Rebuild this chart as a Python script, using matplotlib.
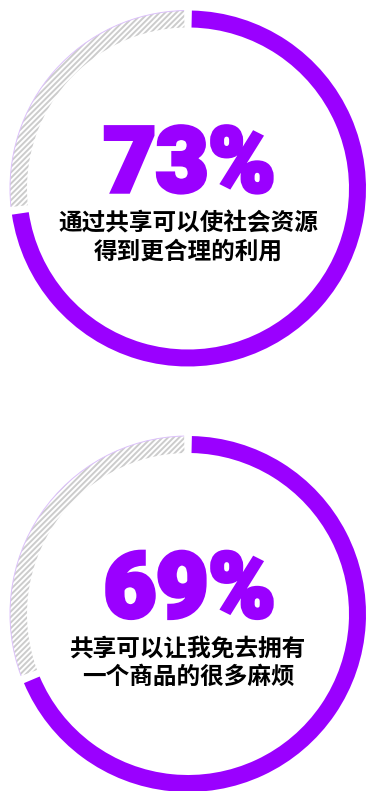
import matplotlib
matplotlib.use('Agg')
from matplotlib import pyplot as plt
from matplotlib import font_manager
from matplotlib import patheffects
from matplotlib.patches import Arc

plt.rcParams['font.family'] = ['Noto Sans CJK SC', 'DejaVu Sans']
plt.rcParams['hatch.linewidth'] = 1.4

# survey results, share of respondents who agree
shares = [73, 69]
captions = [
    ["通过共享可以使社会资源", "得到更合理的利用"],
    ["共享可以让我免去拥有", "一个商品的很多麻烦"],
]

W, H = 366, 791
purple = '#9a00ff'
grey = '#cccccc'
lavender = '#dcc0fb'
radius = 178
ring = 17
gap = 2.5  # degrees trimmed off each end of a segment
cx = 188
cys = [188.5, 614]  # ring centres, px from top


def heaviest_font(families):
    # pick the boldest upright face among the installed candidates
    best = None
    for fe in font_manager.fontManager.ttflist:
        if fe.name in families and fe.style == 'normal':
            w = fe.weight if isinstance(fe.weight, int) else 400
            key = (w, -families.index(fe.name))
            if best is None or key > best[0]:
                best = (key, fe.fname)
    if best is None:
        return font_manager.FontProperties(family='DejaVu Sans', weight='bold')
    return font_manager.FontProperties(fname=best[1])


num_font = heaviest_font(['Roboto', 'Inter', 'Lato', 'Open Sans', 'Noto Sans'])
# fatten the digits a little more than the bold face gives, keeping sharp corners
fatten = [patheffects.withStroke(linewidth=3.2, foreground=purple,
                                 joinstyle='miter')]

fig = plt.figure(figsize=(W / 100, H / 100), dpi=100)
ax = fig.add_axes([0, 0, 1, 1])

for share, lines, cy in zip(shares, captions, cys):
    yc = H - cy
    wedges, _ = ax.pie([share, 100 - share], radius=radius, center=(cx, yc),
                       startangle=90, counterclock=False,
                       colors=[purple, 'white'],
                       wedgeprops=dict(width=ring, linewidth=0))
    for w in wedges:
        w.set_theta1(w.theta1 + gap / 2)
        w.set_theta2(w.theta2 - gap / 2)
    rest = wedges[1]
    rest.set_hatch('//////')
    rest.set_edgecolor(grey)
    ax.add_patch(Arc((cx, yc), 2 * radius, 2 * radius, theta1=rest.theta1,
                     theta2=rest.theta2, color=lavender, lw=0.7))

    ax.text(cx + 1.5, yc - 3, f'{share}%', ha='center', va='baseline',
            fontsize=65, color=purple, fontproperties=num_font,
            path_effects=fatten)
    ax.text(cx, yc - 35, lines[0], ha='center', va='center',
            fontsize=17, fontweight='heavy', color='black')
    ax.text(cx, yc - 63, lines[1], ha='center', va='center',
            fontsize=17, fontweight='heavy', color='black')

ax.set_xlim(0, W)
ax.set_ylim(0, H)
ax.set_aspect('auto')
ax.axis('off')
fig.savefig('out.png', dpi=100)
